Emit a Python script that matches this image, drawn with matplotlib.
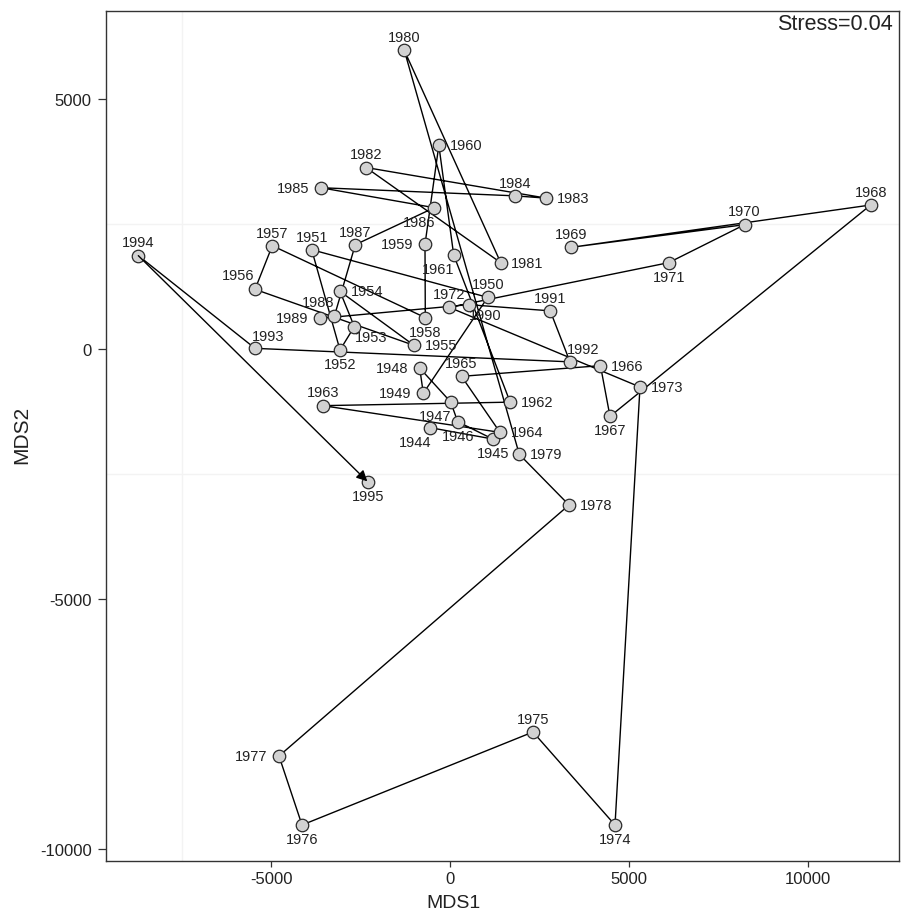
import matplotlib
matplotlib.use("Agg")
import matplotlib.pyplot as plt

plt.rcParams['font.family'] = ['Liberation Sans', 'DejaVu Sans']
plt.rcParams['axes.unicode_minus'] = False

# MDS ordination of yearly samples, 1944-1995
years = list(range(1944, 1996))
mds1 = [-567, 1184, 206, 11, -855, -754, 1045, -3872, -3081, -2681,
        -3081, -1014, -5455, -4972, -698, -707, -320, 95, 1672, -3565,
        1388, 313, 4195, 4461, 11743, 3372, 8223, 6101, -28, 5299,
        4601, 2310, -4142, -4785, 3316, 1927, -1285, 1408, -2355, 2683,
        1807, -3623, -447, -2654, -3240, -3631, 513, 2791, 3344, -5455,
        -8715, -2290]
mds2 = [-1573, -1800, -1453, -1060, -380, -885, 1033, 1986, -20, 447,
        1153, 73, 1193, 2066, 627, 2093, 4073, 1880, -1063, -1133,
        -1667, -547, -333, -1347, 2880, 2033, 2487, 1727, 833, -760,
        -9520, -7660, -9520, -8140, -3120, -2107, 5973, 1727, 3630, 3017,
        3063, 3226, 2826, 2086, 653, 613, 887, 763, -257, 13,
        1867, -2667]
stress = 0.04

# where each year label sits relative to its point (default: above)
label_pos = {
    1944: 'sw', 1945: 's', 1946: 's', 1947: 'sw', 1948: 'w', 1949: 'w',
    1952: 's', 1953: 'se', 1954: 'e', 1955: 'e', 1956: 'nw', 1958: 's',
    1959: 'w', 1960: 'e', 1961: 'sw', 1962: 'e', 1964: 'e', 1966: 'e',
    1967: 's', 1971: 's', 1973: 'e', 1974: 's', 1976: 's', 1977: 'w',
    1978: 'e', 1979: 'e', 1981: 'e', 1983: 'e', 1985: 'w', 1986: 'sw',
    1988: 'nw', 1989: 'w', 1990: 'se', 1992: 'ne', 1993: 'ne', 1995: 's',
}
# offsets in points (dx, dy, ha)
offs = {
    'n': (0, 9.5, 'center'), 's': (0, -10.0, 'center'),
    'e': (7.6, 0, 'left'), 'w': (-8.4, 0, 'right'),
    'ne': (9.4, 9.0, 'center'), 'nw': (-12.0, 10.0, 'center'),
    'se': (12.0, -7.5, 'center'), 'sw': (-11.0, -10.0, 'center'),
}

fig = plt.figure(figsize=(9.01, 9.12), dpi=100)
ax = fig.add_axes([105.7 / 901, 1 - 861.7 / 912, (899 - 105.7) / 901, (861.7 - 12) / 912])

# faint grid lines
ax.axvline(-7500, color='#f3f3f3', lw=1, zorder=0)
for yy in (2500, -2500):
    ax.axhline(yy, color='#f3f3f3', lw=1, zorder=0)

# path through the years, arrow on the last step
ax.plot(mds1[:-1], mds2[:-1], color='black', lw=1.0, zorder=2)
ax.annotate('', xy=(mds1[-1], mds2[-1]), xytext=(mds1[-2], mds2[-2]),
            arrowprops=dict(arrowstyle='-|>', color='black', lw=1.0,
                            mutation_scale=16, shrinkA=0, shrinkB=1),
            zorder=4)
ax.plot(mds1, mds2, 'o', ms=9, mfc='#d2d2d2', mec='#2a2a2a', mew=0.9, zorder=3)

for yr, x, y in zip(years, mds1, mds2):
    dx, dy, ha = offs[label_pos.get(yr, 'n')]
    ax.annotate(str(yr), (x, y), xytext=(dx, dy), textcoords='offset points',
                ha=ha, va='center', fontsize=10.5, color='#222222', zorder=5)

ax.set_xlim(-9626, 12534)
ax.set_ylim(-10234, 6760)
ax.set_xticks([-5000, 0, 5000, 10000])
ax.set_yticks([-10000, -5000, 0, 5000])
ax.tick_params(direction='out', length=4.5, width=0.9, labelsize=12, pad=2.8,
               color='#333333', labelcolor='#222222')
ax.tick_params(axis='y', length=5.5, pad=4.5)
for s in ax.spines.values():
    s.set_color('#333333')
    s.set_linewidth(1.0)

fig.text(893 / 901, 1 - 25 / 912, 'Stress=%.2f' % stress, ha='right', va='center',
         fontsize=15.5, color='#222222')
fig.text(453 / 901, 1 - 907.8 / 912, 'MDS1', ha='center', va='baseline', fontsize=14,
         color='#222222')
fig.text(22 / 901, 1 - 435 / 912, 'MDS2', ha='center', va='center', fontsize=15,
         rotation=90, color='#222222')

fig.savefig('out.png', dpi=100)
